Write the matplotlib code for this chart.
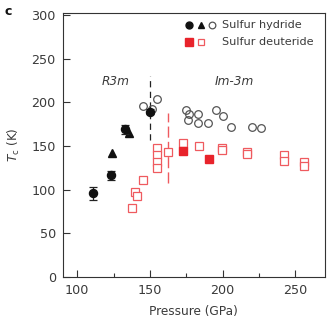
import matplotlib
matplotlib.use("Agg")
import matplotlib.pyplot as plt
import numpy as np

plt.rcParams['font.family'] = ['DejaVu Sans']
plt.rcParams['mathtext.fontset'] = 'dejavusans'

# sulfur hydride, filled circles with error bars
h_circ_p = [111, 123.2, 132.8, 150.0]
h_circ_t = [95.5, 116.5, 169, 189]
h_circ_err = [7, 5, 5, 3]

# sulfur hydride, triangles
h_tri_p = [124, 135.8]
h_tri_t = [142, 165]

# sulfur hydride, open circles
h_open_p = [145, 151.2, 154.7, 174.9, 177, 176, 182.9, 182.9, 190.2, 195.3, 200.1, 205.9, 220.5, 226.3]
h_open_t = [195.7, 191.8, 203.7, 191, 186, 179.6, 186, 176.5, 176.5, 191, 184.6, 172, 172, 171]

# sulfur deuteride, filled squares
d_fill_p = [172.6, 190.9]
d_fill_t = [144.4, 135]

# sulfur deuteride, open squares
d_open_p = [154.7, 154.7, 154.7, 154.7, 162.3, 145, 139.7, 140.9, 137.9, 172.6, 184,
            199.9, 199.9, 217, 217, 242.4, 242.4, 256.1, 256.1]
d_open_t = [148, 140, 131, 124.5, 143.5, 110.8, 96.7, 92.9, 78.4, 153, 149.8,
            147.2, 145, 143.3, 140.5, 139.5, 132.6, 131.8, 127.3]

# phase boundaries
bound_h_p = 150.4
bound_h_t = (157, 230)
bound_d_p = 162.7
bound_d_t = (108, 188)

red = '#e8232b'
red_open = '#ef5a5f'
grey = '#555555'
txt = '#3a3a3a'

fig = plt.figure(figsize=(3.30, 3.23), dpi=100)
ax = fig.add_axes([0.19, 0.143, 0.795, 0.816])

ax.vlines(bound_h_p, *bound_h_t, colors='#222222', linestyles=(0, (5, 3.5)), lw=0.9, zorder=1)
ax.vlines(bound_d_p, *bound_d_t, colors=red_open, linestyles=(0, (8, 3)), lw=1.0, zorder=1)

ax.plot(h_open_p, h_open_t, 'o', ms=5.5, mfc='none', mec=grey, mew=0.9, zorder=2)
ax.plot(d_open_p, d_open_t, 's', ms=5.6, mfc='white', mec=red_open, mew=0.9, zorder=2)
ax.plot(d_fill_p, d_fill_t, 's', ms=5.8, color=red, zorder=3)
ax.plot(h_tri_p, h_tri_t, '^', ms=5.8, color='#111111', zorder=3)
ax.errorbar(h_circ_p, h_circ_t, yerr=h_circ_err, fmt='o', ms=5.8, color='#111111',
            ecolor='#222222', elinewidth=0.9, capsize=3, capthick=0.9, zorder=4)

ax.text(126.5, 224, 'R3m', style='italic', ha='center', va='center', fontsize=8.7, color=txt)
ax.text(208, 224, 'Im-3m', style='italic', ha='center', va='center', fontsize=8.7, color=txt)

# legend built by hand: marker rows plus labels
ax.plot([176.9], [288.5], 'o', ms=5.0, color='#111111', clip_on=False)
ax.plot([185.0], [288.5], '^', ms=5.0, color='#111111', clip_on=False)
ax.plot([192.6], [288.5], 'o', ms=4.8, mfc='none', mec=grey, mew=0.9, clip_on=False)
ax.plot([176.9], [268.7], 's', ms=5.2, color=red, clip_on=False)
ax.plot([185.0], [268.7], 's', ms=5.0, mfc='white', mec=red_open, mew=0.9, clip_on=False)
ax.text(199.4, 288.5, 'Sulfur hydride', ha='left', va='center', fontsize=8.1, color=txt)
ax.text(199.4, 268.7, 'Sulfur deuteride', ha='left', va='center', fontsize=8.1, color=txt)

ax.set_xlim(90, 270.5)
ax.set_ylim(0, 302)
ax.set_xticks([100, 150, 200, 250])
ax.set_xticks([125, 175, 225], minor=True)
ax.set_yticks([0, 50, 100, 150, 200, 250, 300])
ax.tick_params(axis='both', which='both', direction='in', colors='#333333',
               labelcolor=txt, labelsize=9.2, width=0.8)
ax.tick_params(axis='both', which='major', length=5, pad=5)
ax.tick_params(axis='x', which='minor', length=3)
for s in ax.spines.values():
    s.set_color('#333333')
    s.set_linewidth(0.8)

ax.set_xlabel('Pressure (GPa)', fontsize=8.7, color=txt, labelpad=6)
ax.set_ylabel(r'$T_\mathrm{c}$ (K)', fontsize=8.7, color=txt, labelpad=7)

fig.text(0.015, 0.965, 'c', fontsize=9, fontweight='bold', color='#111111', va='center')

fig.savefig('out.png', dpi=100)
